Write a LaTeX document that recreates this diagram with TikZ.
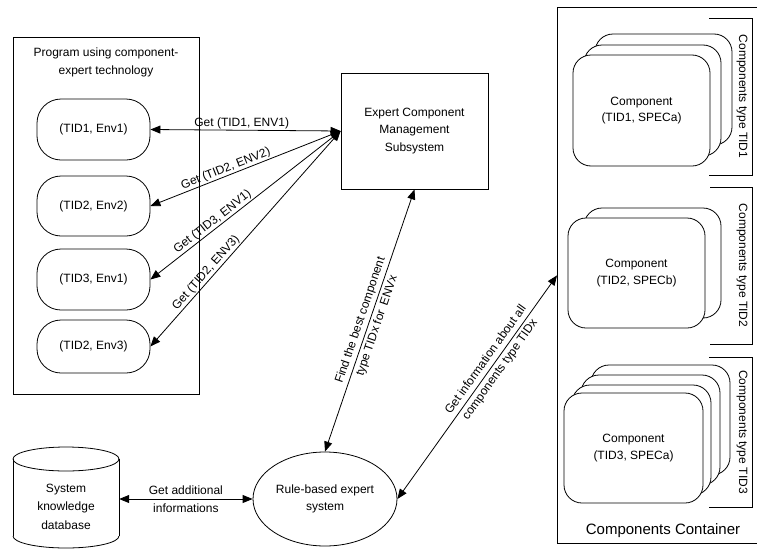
\documentclass[tikz,border=0pt]{standalone}
\usepackage{fontspec}
\setmainfont{Liberation Sans}
\usetikzlibrary{arrows.meta,shapes.geometric}
\begin{document}
\begin{tikzpicture}[x=1pt,y=-1pt,
  every node/.style={font=\fontsize{12}{17.5}\selectfont, inner sep=0pt},
  ln/.style={line width=0.8pt},
  tip/.style={Triangle[length=10pt,width=8pt]},
  biarrow/.style={ln, {Triangle[length=10pt,width=8pt]}-{Triangle[length=10pt,width=8pt]}},
  envbox/.style={draw, ln, rounded corners=24pt, minimum width=113pt},
  card/.style={draw, ln, fill=white, rounded corners=18pt},
  cardtext/.style={align=center, font=\fontsize{12}{16.5}\selectfont},
  typelabel/.style={rotate=-90},
]
\useasboundingbox (0,0) rectangle (757,549);

% ---------- program using the component-expert technology ----------
\node[draw, ln, minimum width=186pt, minimum height=357pt] (prog) at (106,215.5) {};
\node[align=center] (progtitle) at (106,62.5) {Program using component-\\expert technology};
\node[envbox, minimum height=61pt] (e1) at (93.5,129.5) {(TID1, Env1)};
\node[envbox, minimum height=60pt] (e2) at (93.5,206) {(TID2, Env2)};
\node[envbox, minimum height=61pt] (e3) at (93.5,279.5) {(TID3, Env1)};
\node[envbox, minimum height=53pt] (e4) at (93.5,346.5) {(TID2, Env3)};

% ---------- management subsystem ----------
\node[draw, ln, minimum width=147pt, minimum height=116pt, align=center] (ecms) at (414.5,131)
  {Expert Component\\Management\\Subsystem};

% ---------- rule-based expert system ----------
\node[draw, ln, ellipse, minimum width=144pt, minimum height=94pt, align=center] (rule) at (325,499)
  {Rule-based expert\\system};

% ---------- knowledge database (cylinder) ----------
\draw[ln] (13,459) -- (13,536);
\draw[ln] (119,459) -- (119,536);
\draw[ln] (66,459) ellipse [x radius=53, y radius=12];
\begin{scope}
  \clip (0,536) rectangle (200,560);
  \draw[ln] (66,536) ellipse [x radius=53, y radius=12];
\end{scope}
\node[align=center, minimum width=106pt, font=\fontsize{12}{18.5}\selectfont] (db) at (66,506.5)
  {System\\knowledge\\database};

% ---------- components container ----------
\node[draw, ln, anchor=north west, minimum width=210pt, minimum height=536pt] (cont) at (557,7) {};
\node[font=\fontsize{15}{18}\selectfont] (conttitle) at (663,531) {Components Container};

% type brackets
\draw[ln] (709,18) -- (752,18) -- (752,175) -- (709,175);
\node[typelabel] (type1) at (742,96.5) {Components type TID1};
\draw[ln] (710,187) -- (752,187) -- (752,344) -- (710,344);
\node[typelabel] (type2) at (742,265.5) {Components type TID2};
\draw[ln] (709,357) -- (752,357) -- (752,507) -- (709,507);
\node[typelabel] (type3) at (742,432) {Components type TID3};

% stack of TID1 components
\draw[card] (595,34) rectangle (732,145);
\draw[card] (584,45) rectangle (721,156);
\node[card, cardtext, minimum width=137pt, minimum height=111pt] (c1) at (641.5,110.5)
  {Component\\(TID1, SPECa)};

% stack of TID2 components
\draw[card] (584,208) rectangle (721,318);
\node[card, cardtext, minimum width=137pt, minimum height=110pt] (c2) at (636.5,273)
  {Component\\(TID2, SPECb)};

% stack of TID3 components
\draw[card] (591,365) rectangle (730,475);
\draw[card] (581,375) rectangle (720,485);
\draw[card] (572,385) rectangle (711,495);
\node[card, cardtext, minimum width=139pt, minimum height=110pt] (c3) at (633.5,448)
  {Component\\(TID3, SPECa)};

% ---------- connectors ----------
\draw[biarrow] (e1.east) -- node[pos=0.48, above=1pt] {Get (TID1, ENV1)} (ecms.west);
\draw[biarrow] (e2.east) -- node[pos=0.41, sloped, above=1pt] {Get (TID2, ENV2)} (ecms.west);
\draw[biarrow] (e3.east) -- node[pos=0.35, sloped, above=1pt] {Get (TID3, ENV1)} (ecms.west);
\draw[biarrow] (e4.east) -- node[pos=0.32, sloped, above=1pt] {Get (TID2, ENV3)} (ecms.west);

\draw[biarrow] (rule.north) -- node[pos=0.49, sloped, align=center]
  {Find the best component\\type TIDx for\enspace ENVx} (ecms.south);

\draw[biarrow] (rule.east) -- node[pos=0.6, sloped, align=center]
  {Get information about all\\components type TIDx} (cont.west);

\draw[biarrow] (db.east |- rule.west) -- node[align=center]
  {Get additional\\informations} (rule.west);
\end{tikzpicture}
\end{document}
